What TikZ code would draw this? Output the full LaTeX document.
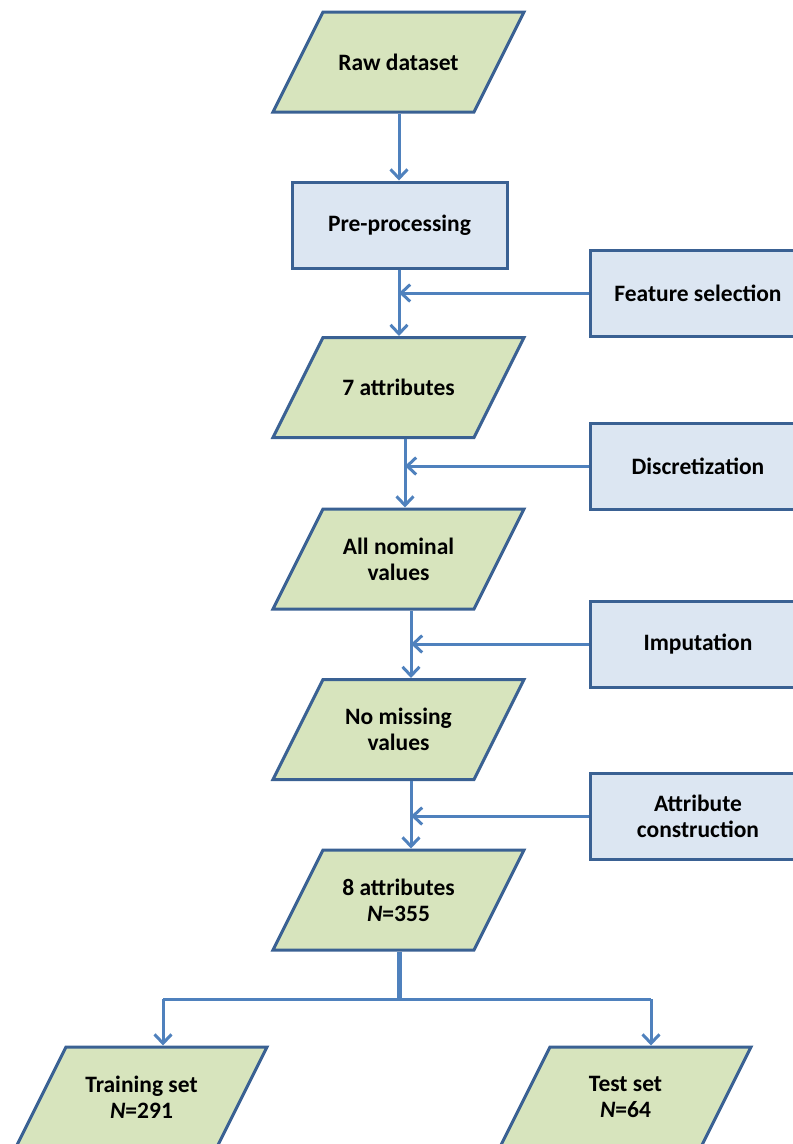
\documentclass[tikz,border=0pt]{standalone}
\usepackage{fontspec}
\setmainfont{Carlito}
\usetikzlibrary{arrows.meta,calc}
\definecolor{datafill}{HTML}{D7E4BD}
\definecolor{stepfill}{HTML}{DCE6F2}
\definecolor{edge}{HTML}{3A6193}
\definecolor{flow}{HTML}{4F81BD}

% a data set: slanted parallelogram with its label node on top
\newcommand\dataset[4]{% name, x, y, text
  \filldraw[dataframe] (#2-125.5,#3+50) -- (#2-75.5,#3-50)
    -- (#2+125.5,#3-50) -- (#2+75.5,#3+50) -- cycle;
  \node[datalabel] (#1) at (#2,#3) {#4};}

\begin{document}
\begin{tikzpicture}[x=1pt,y=-1pt,
  txt/.style={align=center, inner sep=0pt,
    font=\bfseries\fontsize{23.5}{26}\selectfont, text=black},
  dataframe/.style={draw=edge, fill=datafill, line width=3pt, line join=miter},
  datalabel/.style={txt, minimum width=201pt, minimum height=100pt, outer sep=1.5pt},
  proc/.style={txt, draw=edge, fill=stepfill, line width=3pt, rectangle,
    minimum width=215pt, minimum height=86pt},
  side/.style={proc, minimum width=216pt},
  flowline/.style={draw=flow, line width=3pt},
  arrow/.style={flowline, -{Straight Barb[length=9pt,width=17pt]}}]

\useasboundingbox (0,0) rectangle (793,1144);
\clip (0,0) rectangle (793,1144);

% main chain
\dataset{raw}{398.5}{62}{Raw dataset}
\node[proc] (pre) at (399.5,225) {Pre-processing};
\dataset{a7}{398.5}{387.5}{7 attributes}
\dataset{nom}{398.5}{559}{All nominal\\values}
\dataset{miss}{398.5}{729.5}{No missing\\values}
\dataset{a8}{398.5}{900}{8 attributes\\\textit{N}=355}
\dataset{train}{141.5}{1097}{Training set\\\textit{N}=291}
\dataset{test}{625.5}{1097}{Test set\\\textit{N}=64}

% side operations
\node[side] (feat) at (698,293) {Feature selection};
\node[side] (disc) at (698,466) {Discretization};
\node[side] (imp)  at (698,644) {Imputation};
\node[side] (cons) at (698,816) {Attribute\\construction};

% junctions on the vertical flow
\coordinate (c1) at (399,293);
\coordinate (c2) at (405,466);
\coordinate (c3) at (411,644);
\coordinate (c4) at (411,816);
\coordinate (split) at (399,999);
\coordinate (lb) at (163,999);
\coordinate (rb) at (651,999);

\draw[arrow] (raw.south -| c1) -- (pre.north -| c1);
\draw[arrow] (pre.south -| c1) -- (a7.north -| c1);
\draw[arrow] (feat.west) -- (c1);
\draw[arrow] (a7.south -| c2) -- (nom.north -| c2);
\draw[arrow] (disc.west) -- (c2);
\draw[arrow] (nom.south -| c3) -- (miss.north -| c3);
\draw[arrow] (imp.west) -- (c3);
\draw[arrow] (miss.south -| c4) -- (a8.north -| c4);
\draw[arrow] (cons.west) -- (c4);

% split into training and test sets
\draw[flowline, line width=5pt] (a8.south -| split) -- (split);
\draw[flowline] (lb) -- (rb);
\draw[arrow] (lb) -- (lb |- train.north);
\draw[arrow] (rb) -- (rb |- test.north);
\end{tikzpicture}
\end{document}
